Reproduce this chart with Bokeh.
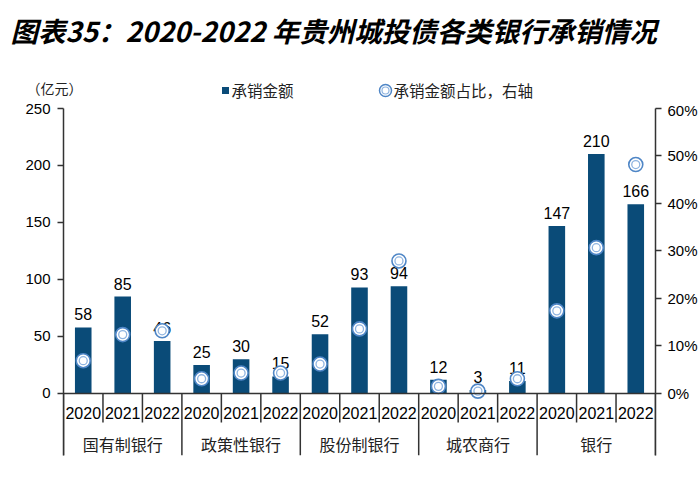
from bokeh.plotting import figure
from bokeh.layouts import column
from bokeh.models import Range1d, LinearAxis, FixedTicker, NumeralTickFormatter, ColumnDataSource
from bokeh.core.properties import value
from bokeh.embed import file_html
from bokeh.resources import INLINE

# ---- data ----
groups = ["国有制银行", "政策性银行", "股份制银行", "城农商行", "银行"]
years = ["2020", "2021", "2022"]
amounts = [58, 85, 46, 25, 30, 15, 52, 93, 94, 12, 3, 11, 147, 210, 166]
shares = [0.069, 0.124, 0.132, 0.031, 0.043, 0.043, 0.062, 0.136, 0.279,
          0.015, 0.005, 0.031, 0.174, 0.307, 0.482]
left_ticks = [0, 50, 100, 150, 200, 250]
right_ticks = [0, 0.1, 0.2, 0.3, 0.4, 0.5, 0.6]
title_text = "图表35：2020-2022 年贵州城投债各类银行承销情况"
unit_text = "（亿元）"
legend_bar = "承销金额"
legend_pct = "承销金额占比，右轴"

BAR = "#0a4b78"
RING = "#4f86c6"
RING2 = "#8fb4e0"
FONT = "Liberation Sans"
CJK = "Noto Sans CJK SC"
AX = "#333333"

W = 700
TOP_H = 101
MAIN_H = 377

# ---------------- header figure (title, unit, legend) ----------------
head = figure(width=W, height=TOP_H, output_backend="svg", toolbar_location=None,
              x_range=Range1d(0, W), y_range=Range1d(TOP_H, 0),
              x_axis_location=None, y_axis_location=None,
              min_border=0, min_border_left=0, min_border_right=0,
              min_border_top=0, min_border_bottom=0, frame_align=False)
head.outline_line_color = None
head.xgrid.visible = False
head.ygrid.visible = False

head.text(x=[10], y=[29], text=[title_text], text_font=value(CJK),
          text_font_size="27.5px", text_font_style="bold italic",
          text_color="black", text_baseline="middle", text_align="left")
head.text(x=[26], y=[87], text=[unit_text], text_font=value(CJK),
          text_font_size="14px", text_color="#222222",
          text_baseline="middle", text_align="left")
head.scatter(x=[225], y=[90], marker="square", size=7, fill_color=BAR, line_color=None)
head.text(x=[231], y=[89.5], text=[legend_bar], text_font=value(CJK),
          text_font_size="15.5px", text_color="#222222",
          text_baseline="middle", text_align="left")
head.scatter(x=[385], y=[90], size=12, fill_color="white", line_color=RING, line_width=1.5)
head.scatter(x=[385], y=[90], size=7, fill_color="white", line_color=RING2, line_width=1.2)
head.text(x=[393], y=[89.5], text=[legend_pct], text_font=value(CJK),
          text_font_size="15.5px", text_color="#222222",
          text_baseline="middle", text_align="left")

# ---------------- main chart ----------------
n_years = len(years)
xs = [g * n_years + j + 0.5 for g in range(len(groups)) for j in range(n_years)]
year_lab = [years[j] for g in range(len(groups)) for j in range(n_years)]
group_x = [g * n_years + n_years / 2 for g in range(len(groups))]
n_slots = len(groups) * n_years

ymin = -54.39
p = figure(width=W, height=MAIN_H, output_backend="svg", toolbar_location=None,
           x_range=Range1d(0, n_slots), y_range=Range1d(ymin, 250),
           x_axis_location=None, min_border_left=63, min_border_right=42,
           min_border_top=7, min_border_bottom=23, frame_align=False)
p.outline_line_color = None
p.xgrid.visible = False
p.ygrid.visible = False
p.background_fill_color = "white"

p.extra_y_ranges = {"pct": Range1d(ymin * 0.6 / 250, 0.6)}

ax = p.yaxis[0]
ax.ticker = FixedTicker(ticks=left_ticks)
ax.minor_tick_line_color = None
ax.major_tick_in = 0
ax.major_tick_out = 6
ax.axis_line_color = AX
ax.axis_line_width = 1.5
ax.major_tick_line_color = AX
ax.major_tick_line_width = 1.5
ax.major_label_text_font = FONT
ax.major_label_text_font_size = "15px"
ax.major_label_text_color = "black"
ax.major_label_standoff = 7

rax = LinearAxis(y_range_name="pct", ticker=FixedTicker(ticks=right_ticks),
                 formatter=NumeralTickFormatter(format="0%"))
rax.minor_tick_line_color = None
rax.major_tick_in = 0
rax.major_tick_out = 6
rax.axis_line_color = AX
rax.axis_line_width = 1.5
rax.major_tick_line_color = AX
rax.major_tick_line_width = 1.5
rax.major_label_text_font = FONT
rax.major_label_text_font_size = "15px"
rax.major_label_text_color = "black"
rax.major_label_standoff = 6
p.add_layout(rax, "right")

src = ColumnDataSource(dict(x=xs, amt=amounts, pct=shares,
                            lab=[str(a) for a in amounts], yr=year_lab))

p.vbar(x="x", top="amt", bottom=0, width=0.42, source=src,
       fill_color=BAR, line_color=None)

# value labels
p.text(x="x", y="amt", text="lab", source=src, text_align="center",
       text_baseline="bottom", y_offset=-7, text_font=value(FONT),
       text_font_size="16px", text_color="black")

# share markers (double ring)
p.scatter(x="x", y="pct", source=src, y_range_name="pct", size=14,
          fill_color="white", line_color=RING, line_width=1.6)
p.scatter(x="x", y="pct", source=src, y_range_name="pct", size=8,
          fill_color="white", line_color=RING2, line_width=1.3)

# x axis line and separators
p.segment(x0=[0], y0=[0], x1=[n_slots], y1=[0], line_color=AX, line_width=1.5)
inner = [g * n_years + j for g in range(len(groups)) for j in range(1, n_years)]
p.segment(x0=inner, y0=[0] * len(inner), x1=inner, y1=[-25.4] * len(inner),
          line_color=AX, line_width=1.5)
outer = [g * n_years for g in range(len(groups) + 1)]
p.segment(x0=outer, y0=[0] * len(outer), x1=outer, y1=[ymin] * len(outer),
          line_color=AX, line_width=1.5)

# category labels
p.text(x="x", y=-17.5, text="yr", source=src, text_align="center",
       text_baseline="middle", text_font=value(FONT), text_font_size="16px",
       text_color="black")
p.text(x=group_x, y=[-43.9] * len(groups), text=groups, text_align="center",
       text_baseline="middle", text_font=value(CJK), text_font_size="16px",
       text_color="#222222")

layout = column(head, p, spacing=0)
open("out.html", "w").write(file_html(layout, INLINE))
